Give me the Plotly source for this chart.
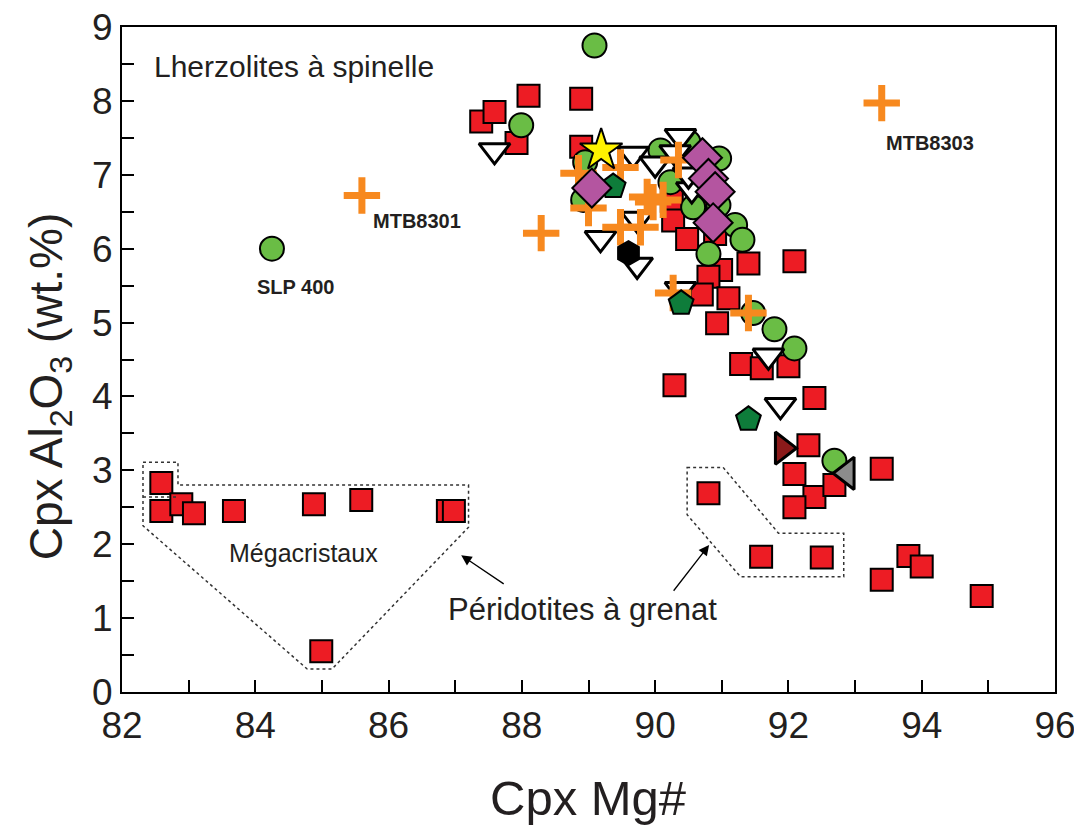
import plotly.graph_objects as go

# ---------------- data ----------------
sq_x = [82.59, 82.59, 82.89, 83.08, 83.68, 84.88, 85.59, 86.89, 86.98, 84.99,
        87.39, 87.59, 88.10, 87.92, 88.89, 88.89, 90.25, 90.27, 90.48, 90.90, 90.70,
        91.40, 92.09, 90.99, 90.80, 90.70, 91.10, 90.93, 90.29, 91.29, 91.60, 92.00,
        92.39, 92.30, 92.09, 92.39, 92.69, 92.09, 93.40, 90.80, 91.59, 92.50, 93.40,
        93.80, 94.00, 94.90]
sq_y = [2.83, 2.45, 2.54, 2.42, 2.45, 2.54, 2.60, 2.45, 2.45, 0.55,
        7.72, 7.85, 8.07, 7.43, 8.03, 7.38, 6.65, 6.38, 6.13, 6.20, 6.55,
        5.80, 5.83, 5.71, 5.62, 5.38, 5.33, 4.99, 4.15, 4.44, 4.38, 4.41,
        3.98, 3.34, 2.95, 2.64, 2.80, 2.50, 3.02, 2.69, 1.83, 1.82, 1.52,
        1.84, 1.70, 1.30]

ci_x = [84.25, 89.09, 87.99, 88.95, 88.92, 90.08, 90.50, 90.96, 90.57, 90.95,
        91.20, 91.31, 90.80, 91.47, 91.79, 92.09, 92.69, 90.23]
ci_y = [6.00, 8.75, 7.67, 7.17, 6.66, 7.33, 7.44, 7.22, 6.56, 6.59,
        6.32, 6.12, 5.93, 5.13, 4.91, 4.65, 3.13, 6.90]

td_x = [87.59, 89.67, 90.00, 90.38, 90.30, 90.55, 89.18, 89.73, 90.38, 91.70,
        91.88, 89.73, 90.50]
td_y = [7.33, 7.28, 7.15, 7.52, 7.30, 6.80, 6.14, 5.78, 5.45, 4.55,
        3.88, 6.40, 7.00]

cr_x = [85.60, 93.40, 88.29, 88.85, 89.48, 89.00, 89.97, 89.48, 89.78, 90.27,
        90.35, 90.12, 89.88, 91.40]
cr_y = [6.72, 7.97, 6.21, 7.02, 7.10, 6.55, 6.63, 6.29, 6.29, 5.40,
        7.20, 6.66, 6.70, 5.13]

pe_x = [89.37, 90.39, 91.40]
pe_y = [6.84, 5.26, 3.69]

di_x = [89.05, 90.71, 90.80, 90.90, 90.87]
di_y = [6.82, 7.23, 6.95, 6.77, 6.35]

hex_x, hex_y = [89.60], [5.94]
star_x, star_y = [89.19], [7.33]
tr_x, tr_y = [91.91], [3.30]
tl_x, tl_y = [92.88], [2.96]

# outlines of grouped fields (data coordinates)
mega_x = [82.315, 82.84, 82.84, 87.20, 87.20, 85.15, 84.78, 82.315]
mega_y = [3.11, 3.11, 2.80, 2.80, 2.23, 0.31, 0.31, 2.25]
gar_x = [90.48, 91.02, 91.85, 92.83, 92.83, 91.28, 90.48]
gar_y = [3.04, 3.04, 2.15, 2.15, 1.56, 1.56, 2.40]

x_ticks = [82, 84, 86, 88, 90, 92, 94, 96]
y_ticks = [0, 1, 2, 3, 4, 5, 6, 7, 8, 9]

# ---------------- figure ----------------
fig = go.Figure()
OUT = dict(color="black", width=2)

fig.add_trace(go.Scatter(x=sq_x, y=sq_y, mode="markers",
    marker=dict(symbol="square", size=22, color="#ed1c24", line=OUT)))
fig.add_trace(go.Scatter(x=ci_x, y=ci_y, mode="markers",
    marker=dict(symbol="circle", size=24, color="#6abd45", line=OUT)))
fig.add_trace(go.Scatter(x=td_x, y=td_y, mode="markers",
    marker=dict(symbol="triangle-down", size=27, color="white", line=dict(color="black", width=3))))
fig.add_trace(go.Scatter(x=cr_x, y=cr_y, mode="markers",
    marker=dict(symbol="cross-thin", size=26, line=dict(color="#f7891f", width=7))))
fig.add_trace(go.Scatter(x=pe_x, y=pe_y, mode="markers",
    marker=dict(symbol="pentagon", size=26, color="#0e7c3a", line=OUT)))
fig.add_trace(go.Scatter(x=di_x, y=di_y, mode="markers",
    marker=dict(symbol="diamond", size=30, color="#b455a0", line=OUT)))
fig.add_trace(go.Scatter(x=hex_x, y=hex_y, mode="markers",
    marker=dict(symbol="hexagon", size=24, color="black", line=OUT)))
fig.add_trace(go.Scatter(x=star_x, y=star_y, mode="markers",
    marker=dict(symbol="star", size=32, color="#fff200", line=OUT)))
fig.add_trace(go.Scatter(x=tr_x, y=tr_y, mode="markers",
    marker=dict(symbol="triangle-right", size=28, color="#8b1a1a", line=dict(color="black", width=3))))
fig.add_trace(go.Scatter(x=tl_x, y=tl_y, mode="markers",
    marker=dict(symbol="triangle-left", size=28, color="#8c8c8c", line=dict(color="black", width=3))))

def path_from(xs, ys):
    p = "M %f,%f " % (xs[0], ys[0])
    for a, b in zip(xs[1:], ys[1:]):
        p += "L %f,%f " % (a, b)
    return p + "Z"

fig.add_shape(type="path", path=path_from(mega_x, mega_y), xref="x", yref="y",
              line=dict(color="#333333", width=1.5, dash="dot"))
fig.add_shape(type="line", x0=mega_x[0], x1=mega_x[1], y0=2.64, y1=2.64, xref="x", yref="y",
              line=dict(color="#333333", width=1.5, dash="dot"))
fig.add_shape(type="path", path=path_from(gar_x, gar_y), xref="x", yref="y",
              line=dict(color="#333333", width=1.5, dash="dot"))

FONT = "Liberation Sans, Arial, sans-serif"
INK = "#231f20"
def label(x, y, text, size, **kw):
    fig.add_annotation(x=x, y=y, text=text, showarrow=False, xref="x", yref="y",
                       font=dict(family=FONT, size=size, color=INK), **kw)

label(82.45, 8.46, "Lherzolites à spinelle", 30, xanchor="left")
label(86.43, 6.37, "<b>MTB8301</b>", 20)
label(84.61, 5.48, "<b>SLP 400</b>", 20)
label(94.12, 7.43, "<b>MTB8303</b>", 20)
label(84.73, 1.88, "Mégacristaux", 25)
label(88.91, 1.11, "Péridotites à grenat", 31)

for (tx, ty, hx, hy) in [(87.75, 1.45, 87.09, 1.85), (90.26, 1.35, 90.81, 1.99)]:
    fig.add_annotation(x=hx, y=hy, ax=tx, ay=ty, xref="x", yref="y", axref="x", ayref="y",
                       text="", showarrow=True, arrowhead=2, arrowsize=1.6, arrowwidth=1.3,
                       arrowcolor="black")

# axis titles
fig.add_annotation(x=0.5, y=-0.16, xref="paper", yref="paper", showarrow=False,
                   text="Cpx Mg#", xanchor="center", yanchor="middle",
                   font=dict(family=FONT, size=49, color=INK))
fig.add_annotation(x=-0.078, y=0.46, xref="paper", yref="paper", showarrow=False,
                   text="Cpx Al<sub>2</sub>O<sub>3</sub> (wt.%)", textangle=-90,
                   xanchor="center", yanchor="middle",
                   font=dict(family=FONT, size=46, color=INK))

axis_common = dict(showline=True, linecolor="black", linewidth=2, mirror=True,
                   ticks="inside", ticklen=12, tickwidth=2, tickcolor="black",
                   showgrid=False, zeroline=False, automargin=False,
                   ticklabeloverflow="allow",
                   tickfont=dict(family=FONT, size=37, color=INK))
fig.update_xaxes(range=[82, 96], tickvals=x_ticks, ticktext=[str(v) for v in x_ticks],
                 minor=dict(dtick=1, ticks="inside", ticklen=12, tickwidth=2, tickcolor="black"),
                 **axis_common)
fig.update_yaxes(range=[0, 9], tickvals=y_ticks, ticktext=[str(v) for v in y_ticks],
                 minor=dict(dtick=0.5, ticks="inside", ticklen=12, tickwidth=2, tickcolor="black"),
                 **axis_common)

# the page body adds an 8 px offset; the figure is sized to fit the window after that offset
fig.update_layout(width=1074, height=819, showlegend=False,
                  plot_bgcolor="white", paper_bgcolor="white",
                  margin=dict(l=114, r=27, t=19, b=135))

fig.write_html("out.html")
